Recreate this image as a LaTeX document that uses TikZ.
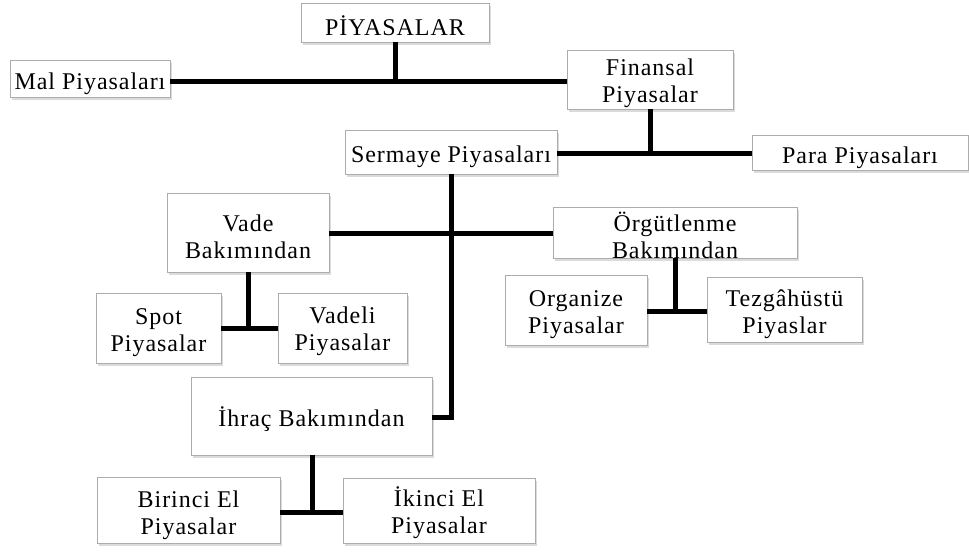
\documentclass[tikz,border=0pt]{standalone}
\usepackage{fontspec}
\setmainfont{Liberation Serif}[LetterSpace=4]
\usetikzlibrary{shadows}
\newcommand\twol[3][13pt]{\raisebox{-#1}[0pt][0pt]{\begin{tabular}{@{}c@{}}#2\\#3\end{tabular}}}
\begin{document}
\begin{tikzpicture}[x=1pt,y=1pt,
  boxbase/.style={draw=gray!65, line width=0.9pt, fill=white, inner sep=0pt, outer sep=0pt,
    align=center, font=\fontsize{24}{27}\selectfont,
    drop shadow={opacity=0.28, shadow xshift=2pt, shadow yshift=-3pt}},
  box/.style={boxbase, execute at begin node={\rule{0pt}{27pt}}},
  conn/.style={line width=5pt, draw=black, line cap=butt, line join=miter}]
\useasboundingbox (0,0) rectangle (969,-554);
\fill[white] (0,0) rectangle (969,-554);
% boxes
\node[box, minimum width=188, minimum height=39] (p) at (395,-22.5) {PİYASALAR};
\node[box, minimum width=160, minimum height=37] (mal) at (90,-78.5) {Mal Piyasaları};
\node[boxbase, minimum width=166, minimum height=59] (fin) at (650,-79.5) {\twol[10.5pt]{Finansal}{Piyasalar}};
\node[box, minimum width=212, minimum height=44] (ser) at (451,-152) {Sermaye Piyasaları};
\node[box, minimum width=216, minimum height=35] (para) at (860,-152.5) {Para Piyasaları};
\node[boxbase, minimum width=162, minimum height=79] (vade) at (248,-232.5) {\twol[13pt]{Vade}{Bakımından}};
\node[boxbase, minimum width=244, minimum height=51] (org) at (675,-232.5) {\twol[13.5pt]{Örgütlenme}{Bakımından}};
\node[boxbase, minimum width=125, minimum height=70] (spot) at (158.5,-328) {\twol[10.5pt]{Spot}{Piyasalar}};
\node[boxbase, minimum width=129, minimum height=70] (vadeli) at (342.5,-328) {\twol[9.5pt]{Vadeli}{Piyasalar}};
\node[boxbase, minimum width=142, minimum height=70] (orgz) at (576,-310) {\twol[10.5pt]{Organize}{Piyasalar}};
\node[boxbase, minimum width=155, minimum height=65] (tez) at (784.5,-309.5) {\twol[11pt]{Tezgâhüstü}{Piyaslar}};
\node[box, minimum width=241, minimum height=78] (ihr) at (311.5,-416) {İhraç Bakımından};
\node[boxbase, minimum width=183, minimum height=66] (bir) at (188.5,-510) {\twol[11.5pt]{Birinci El}{Piyasalar}};
\node[boxbase, minimum width=192, minimum height=65] (iki) at (439,-510.5) {\twol[10pt]{İkinci El}{Piyasalar}};
% junctions
\coordinate (j1) at (395,-81);
\coordinate (j2) at (650,-153);
\coordinate (j3) at (451,-233);
\coordinate (j4) at (451,-417);
\coordinate (j5) at (248,-328);
\coordinate (j6) at (675,-311);
\coordinate (j7) at (312,-512);
% connectors
\draw[conn] (p.south) -- (j1);
\draw[conn] (mal.east |- j1) -- (fin.west |- j1);
\draw[conn] (fin.south -| j2) -- (j2);
\draw[conn] (ser.east |- j2) -- (para.west |- j2);
\draw[conn] (vade.east |- j3) -- (org.west |- j3);
\draw[conn] (ser.south -| j4) -- (j4) -- (ihr.east |- j4);
\draw[conn] (vade.south -| j5) -- (j5);
\draw[conn] (spot.east |- j5) -- (vadeli.west |- j5);
\draw[conn] (org.south -| j6) -- (j6);
\draw[conn] (orgz.east |- j6) -- (tez.west |- j6);
\draw[conn] (ihr.south -| j7) -- (j7);
\draw[conn] (bir.east |- j7) -- (iki.west |- j7);
\end{tikzpicture}
\end{document}
